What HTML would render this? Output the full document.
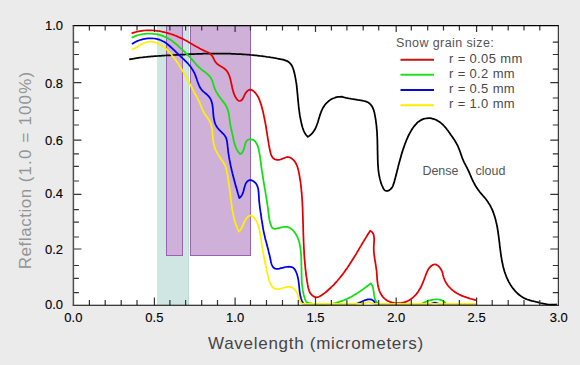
<!DOCTYPE html>
<html><head><meta charset="utf-8"><style>
html,body{margin:0;padding:0;}
body{width:580px;height:365px;background:#ebebeb;position:relative;overflow:hidden;font-family:"Liberation Sans",sans-serif;}
svg{position:absolute;left:0;top:0;}
.yl{position:absolute;left:30px;width:33px;text-align:right;font-size:13px;line-height:16px;color:#000;-webkit-text-stroke:0.12px #000;}
.xl{position:absolute;top:310px;width:40px;text-align:center;font-size:13px;line-height:16px;color:#000;-webkit-text-stroke:0.12px #000;}
.t{position:absolute;white-space:nowrap;line-height:1;}
</style></head><body>
<svg width="580" height="365" viewBox="0 0 580 365">
<rect x="73.4" y="25.6" width="484.9" height="279.59999999999997" fill="#fff"/>
<rect x="157" y="25.6" width="32" height="279.59999999999997" fill="rgb(207,230,226)"/>
<line x1="188.6" y1="25.6" x2="188.6" y2="305.2" stroke="rgb(188,214,207)" stroke-width="0.8"/>
<line x1="189.6" y1="25.6" x2="189.6" y2="255.5" stroke="#f4fbfa" stroke-width="0.9"/>
<rect x="166.5" y="25.6" width="16" height="229.9" fill="rgb(206,176,216)" stroke="#9862b4" stroke-width="1"/>
<rect x="190.5" y="25.6" width="60" height="229.9" fill="rgb(206,176,216)" stroke="#9862b4" stroke-width="1"/>
<path d="M129.2,59.4 130.7,59.1 132.2,58.8 133.7,58.6 135.2,58.3 136.7,58.1 138.2,57.9 139.7,57.7 141.2,57.5 142.7,57.3 144.2,57.1 145.7,57.0 147.2,56.8 148.7,56.7 150.2,56.6 151.7,56.4 153.2,56.3 154.7,56.2 156.2,56.1 157.8,56.0 159.3,55.9 160.8,55.8 162.3,55.7 163.8,55.6 165.3,55.5 166.8,55.4 168.3,55.4 169.8,55.3 171.4,55.2 172.9,55.1 174.4,55.0 175.9,54.9 177.4,54.9 178.9,54.8 180.4,54.7 181.9,54.6 183.5,54.5 185.0,54.5 186.5,54.4 188.0,54.3 189.5,54.2 191.0,54.2 192.5,54.1 194.0,54.1 195.6,54.0 197.1,53.9 198.6,53.9 200.1,53.8 201.6,53.8 203.1,53.7 204.6,53.7 206.1,53.7 207.7,53.6 209.2,53.6 210.7,53.6 212.2,53.6 213.7,53.6 215.2,53.6 216.7,53.5 218.3,53.5 219.8,53.5 221.3,53.6 222.8,53.6 224.3,53.6 225.8,53.6 227.3,53.7 228.9,53.7 230.4,53.7 231.9,53.8 233.4,53.8 234.9,53.9 236.4,54.0 237.9,54.0 239.5,54.1 241.0,54.2 242.5,54.3 244.0,54.4 245.5,54.5 247.0,54.6 248.5,54.7 250.0,54.9 251.5,55.0 253.0,55.1 254.6,55.3 256.1,55.4 257.6,55.6 259.1,55.8 260.6,56.0 262.1,56.1 263.6,56.3 265.1,56.5 266.6,56.8 268.1,57.0 269.6,57.2 271.1,57.5 272.6,57.7 274.1,58.0 275.6,58.2 277.1,58.5 278.6,58.8 280.1,59.1 281.6,59.4 283.1,59.7 284.5,60.1 285.9,60.6 287.3,61.1 288.5,61.9 289.6,62.8 290.6,63.8 291.4,65.0 292.2,66.3 292.8,67.7 293.4,69.2 293.8,70.7 294.2,72.2 294.6,73.8 294.9,75.3 295.2,76.8 295.5,78.4 295.8,79.9 296.0,81.4 296.3,82.9 296.5,84.4 296.7,85.9 296.8,87.3 297.0,88.8 297.1,90.3 297.3,91.8 297.4,93.3 297.6,94.8 297.7,96.3 297.8,97.8 298.0,99.3 298.1,100.8 298.3,102.3 298.4,103.8 298.6,105.4 298.7,106.9 298.9,108.4 299.1,109.9 299.3,111.4 299.5,112.9 299.7,114.4 299.9,115.9 300.2,117.4 300.5,118.9 300.8,120.4 301.1,121.8 301.4,123.3 301.8,124.8 302.2,126.3 302.6,127.7 303.1,129.1 303.6,130.5 304.2,131.9 304.9,133.2 305.8,134.5 306.7,135.7 307.8,136.8 309.2,135.9 310.5,135.0 311.6,133.9 312.6,132.8 313.5,131.6 314.4,130.3 315.1,129.0 315.8,127.6 316.4,126.1 316.9,124.7 317.5,123.2 318.0,121.7 318.4,120.2 318.9,118.6 319.4,117.1 319.8,115.6 320.3,114.1 320.9,112.6 321.4,111.1 322.1,109.7 322.7,108.3 323.5,107.0 324.3,105.7 325.2,104.5 326.2,103.4 327.3,102.3 328.4,101.3 329.6,100.4 330.8,99.5 332.2,98.8 333.6,98.2 335.0,97.7 336.6,97.2 338.2,96.9 339.9,96.8 341.6,96.7 343.1,97.1 344.6,97.5 346.1,97.9 347.5,98.2 348.9,98.5 350.4,98.7 351.8,99.0 353.2,99.2 354.7,99.4 356.2,99.6 357.7,99.9 359.2,100.1 360.8,100.3 362.4,100.6 364.0,101.0 365.5,101.4 367.0,101.9 368.3,102.6 369.5,103.4 370.5,104.4 371.4,105.5 372.2,106.6 372.8,107.9 373.4,109.3 373.9,110.8 374.3,112.2 374.6,113.7 374.9,115.3 375.2,116.8 375.5,118.3 375.7,119.8 375.9,121.3 376.1,122.8 376.3,124.3 376.5,125.8 376.6,127.3 376.7,128.8 376.9,130.3 377.0,131.8 377.1,133.3 377.1,134.8 377.2,136.3 377.3,137.8 377.3,139.3 377.4,140.7 377.4,142.2 377.4,143.7 377.5,145.2 377.5,146.7 377.5,148.2 377.5,149.7 377.6,151.2 377.6,152.7 377.6,154.2 377.7,155.7 377.7,157.2 377.7,158.8 377.8,160.3 377.8,161.8 377.9,163.4 378.0,164.9 378.1,166.4 378.2,168.0 378.3,169.5 378.5,171.0 378.7,172.6 378.9,174.1 379.2,175.6 379.5,177.1 379.8,178.5 380.2,180.0 380.6,181.5 381.0,182.9 381.5,184.3 382.1,185.7 382.7,187.0 383.3,188.4 384.1,189.6 385.0,190.5 386.2,190.9 387.6,190.8 389.1,190.3 390.4,189.4 391.5,188.2 392.4,186.9 393.1,185.4 393.6,183.9 394.1,182.4 394.5,180.9 394.9,179.5 395.3,178.0 395.7,176.6 396.1,175.1 396.4,173.7 396.8,172.3 397.1,170.8 397.5,169.4 397.9,167.9 398.2,166.5 398.6,165.0 399.0,163.5 399.4,162.1 399.8,160.6 400.2,159.2 400.6,157.7 401.0,156.3 401.4,154.8 401.8,153.4 402.3,151.9 402.7,150.5 403.2,149.0 403.7,147.6 404.2,146.2 404.7,144.7 405.2,143.3 405.8,141.9 406.3,140.5 406.9,139.1 407.5,137.8 408.1,136.4 408.8,135.0 409.5,133.7 410.2,132.4 410.9,131.1 411.7,129.8 412.5,128.5 413.4,127.3 414.3,126.1 415.3,124.9 416.3,123.8 417.3,122.7 418.5,121.7 419.7,120.9 421.0,120.1 422.4,119.4 423.8,118.9 425.3,118.5 426.8,118.3 428.4,118.2 429.9,118.2 431.5,118.4 432.9,118.8 434.4,119.2 435.8,119.8 437.1,120.4 438.4,121.2 439.7,122.0 440.8,122.9 442.0,123.9 443.1,124.9 444.1,126.0 445.1,127.1 446.1,128.3 447.0,129.5 448.0,130.7 448.9,132.0 449.8,133.2 450.6,134.5 451.5,135.7 452.4,137.0 453.2,138.2 454.1,139.5 454.9,140.7 455.6,142.0 456.4,143.3 457.1,144.6 457.8,145.9 458.4,147.3 458.9,148.7 459.5,150.1 460.0,151.5 460.5,152.9 461.0,154.4 461.5,155.8 462.0,157.2 462.5,158.7 463.1,160.0 463.7,161.4 464.4,162.8 465.1,164.1 465.8,165.5 466.5,166.8 467.2,168.1 467.8,169.5 468.5,170.8 469.1,172.2 469.7,173.6 470.3,175.0 470.9,176.4 471.5,177.8 472.1,179.2 472.7,180.5 473.4,181.9 474.1,183.2 474.8,184.5 475.5,185.8 476.3,187.1 477.1,188.3 478.0,189.6 478.9,190.8 479.8,192.0 480.8,193.2 481.8,194.3 482.8,195.5 483.8,196.6 484.8,197.8 485.8,199.0 486.7,200.2 487.6,201.4 488.4,202.7 489.2,203.9 490.0,205.2 490.7,206.5 491.3,207.9 492.0,209.2 492.6,210.6 493.1,211.9 493.6,213.3 494.1,214.7 494.6,216.2 495.0,217.6 495.4,219.0 495.8,220.5 496.1,221.9 496.5,223.4 496.8,224.9 497.1,226.3 497.4,227.8 497.6,229.3 497.9,230.8 498.1,232.3 498.3,233.8 498.5,235.4 498.7,236.9 498.9,238.4 499.1,239.9 499.3,241.4 499.5,242.9 499.6,244.5 499.8,246.0 500.0,247.5 500.2,249.0 500.4,250.5 500.6,252.1 500.8,253.6 501.0,255.1 501.2,256.6 501.5,258.1 501.7,259.6 502.0,261.0 502.3,262.5 502.6,264.0 502.9,265.4 503.2,266.9 503.6,268.3 504.0,269.8 504.4,271.2 504.9,272.6 505.4,274.0 505.9,275.4 506.4,276.8 507.0,278.1 507.6,279.5 508.3,280.8 508.9,282.1 509.7,283.4 510.4,284.7 511.3,286.0 512.1,287.2 513.0,288.4 514.0,289.6 515.0,290.8 516.0,291.9 517.1,293.0 518.2,294.0 519.4,295.0 520.6,295.9 521.8,296.8 523.1,297.6 524.5,298.3 525.8,298.9 527.3,299.5 528.7,299.9 530.2,300.4 531.6,300.8 533.1,301.1 534.6,301.5 536.1,301.9 537.5,302.2 539.0,302.6 540.4,303.0 541.9,303.3 543.3,303.6 544.8,303.9 546.3,304.2 547.7,304.4 549.2,304.5 550.7,304.6 552.2,304.6 553.8,304.6 555.3,304.5 556.9,304.3" stroke="#000" stroke-width="1.75" fill="none" stroke-linejoin="round" stroke-linecap="butt"/>
<path d="M131.6,33.4 133.0,32.9 134.5,32.4 135.9,32.0 137.4,31.7 138.8,31.4 140.3,31.1 141.8,30.9 143.3,30.7 144.8,30.5 146.3,30.4 147.7,30.4 149.2,30.4 150.7,30.4 152.2,30.4 153.7,30.5 155.2,30.6 156.7,30.8 158.2,31.0 159.7,31.2 161.2,31.5 162.7,31.8 164.1,32.1 165.6,32.5 167.1,32.9 168.5,33.3 170.0,33.7 171.4,34.2 172.9,34.7 174.3,35.2 175.7,35.8 177.1,36.4 178.5,37.0 179.9,37.6 181.3,38.2 182.7,38.9 184.0,39.5 185.3,40.2 186.7,40.9 188.0,41.7 189.3,42.4 190.5,43.2 191.8,43.9 193.1,44.7 194.4,45.4 195.7,46.2 197.0,46.9 198.3,47.6 199.6,48.4 200.9,49.1 202.3,49.8 203.6,50.4 205.0,51.0 206.4,51.7 207.8,52.3 209.1,53.0 210.3,53.9 211.3,54.9 212.2,56.1 213.0,57.3 213.7,58.7 214.4,60.1 215.1,61.4 216.0,62.6 217.0,63.7 218.2,64.6 219.4,65.5 220.7,66.3 222.1,67.1 223.4,67.9 224.6,68.8 225.7,69.7 226.7,70.8 227.5,72.0 228.2,73.3 228.9,74.6 229.4,76.0 229.9,77.5 230.3,79.0 230.7,80.4 231.0,82.0 231.4,83.5 231.7,85.0 232.0,86.5 232.3,88.0 232.7,89.5 233.1,91.0 233.5,92.4 234.0,93.9 234.5,95.2 235.2,96.5 235.9,97.8 236.8,99.0 237.7,100.1 238.8,100.9 240.0,101.0 241.1,100.5 242.2,99.5 243.1,98.2 243.8,96.7 244.5,95.1 245.3,93.6 246.3,92.2 247.4,91.0 248.6,90.1 249.8,89.7 251.1,89.8 252.4,90.4 253.7,91.3 254.9,92.4 256.0,93.7 256.9,95.0 257.7,96.2 258.4,97.5 259.0,98.8 259.6,100.2 260.1,101.7 260.6,103.1 261.1,104.6 261.5,106.1 261.9,107.6 262.3,109.1 262.7,110.6 263.1,112.0 263.4,113.5 263.7,115.0 264.0,116.4 264.3,117.9 264.6,119.3 264.9,120.7 265.2,122.2 265.4,123.6 265.7,125.1 265.9,126.5 266.2,128.0 266.4,129.4 266.6,130.9 266.9,132.3 267.1,133.8 267.3,135.3 267.6,136.8 267.8,138.3 268.1,139.8 268.3,141.3 268.6,142.9 268.8,144.4 269.1,146.0 269.4,147.6 269.7,149.2 270.0,150.8 270.4,152.3 270.8,153.8 271.3,155.2 271.9,156.5 272.7,157.6 273.6,158.6 274.7,159.2 275.9,159.7 277.4,159.9 278.9,159.8 280.5,159.5 282.0,158.9 283.5,158.3 285.0,157.7 286.4,157.2 287.8,157.0 289.2,157.2 290.6,157.8 291.9,158.7 293.1,159.7 294.2,160.8 295.1,162.0 295.9,163.3 296.5,164.6 297.1,166.0 297.6,167.4 298.0,168.9 298.4,170.3 298.7,171.8 299.0,173.3 299.3,174.8 299.6,176.3 299.8,177.8 300.0,179.3 300.3,180.7 300.5,182.2 300.7,183.7 300.9,185.2 301.0,186.7 301.2,188.2 301.4,189.7 301.5,191.2 301.6,192.7 301.8,194.2 301.9,195.7 302.0,197.3 302.1,198.8 302.2,200.3 302.3,201.8 302.4,203.3 302.4,204.8 302.5,206.3 302.6,207.8 302.6,209.3 302.7,210.8 302.7,212.3 302.8,213.8 302.8,215.3 302.9,216.8 302.9,218.3 303.0,219.8 303.0,221.3 303.0,222.8 303.1,224.3 303.1,225.8 303.2,227.3 303.2,228.8 303.2,230.3 303.3,231.8 303.3,233.3 303.4,234.8 303.4,236.3 303.5,237.8 303.5,239.3 303.6,240.8 303.6,242.3 303.7,243.8 303.8,245.3 303.8,246.8 303.9,248.3 304.0,249.8 304.1,251.3 304.1,252.8 304.2,254.3 304.3,255.8 304.4,257.3 304.5,258.8 304.7,260.3 304.8,261.8 304.9,263.3 305.1,264.8 305.2,266.3 305.3,267.8 305.5,269.3 305.7,270.8 305.9,272.3 306.0,273.8 306.2,275.3 306.4,276.9 306.7,278.4 306.9,279.9 307.1,281.4 307.4,282.9 307.6,284.4 307.9,286.0 308.2,287.5 308.6,288.9 309.0,290.3 309.5,291.7 310.2,293.0 311.0,294.2 312.0,295.2 313.2,296.1 314.6,296.9 316.0,297.3 317.5,297.2 318.9,296.7 320.3,296.0 321.6,295.2 322.9,294.3 324.2,293.4 325.4,292.5 326.6,291.5 327.7,290.5 328.8,289.5 329.9,288.5 331.0,287.5 332.1,286.4 333.2,285.4 334.2,284.3 335.2,283.2 336.2,282.1 337.2,281.0 338.2,279.8 339.1,278.7 340.1,277.5 341.0,276.3 342.0,275.2 342.9,274.0 343.8,272.8 344.7,271.5 345.5,270.3 346.4,269.1 347.3,267.9 348.1,266.6 348.9,265.4 349.8,264.1 350.6,262.8 351.4,261.6 352.2,260.3 353.0,259.0 353.8,257.7 354.6,256.4 355.4,255.2 356.2,253.9 356.9,252.6 357.7,251.3 358.5,250.0 359.2,248.7 360.0,247.4 360.8,246.1 361.5,244.8 362.3,243.5 363.1,242.2 363.9,240.9 364.6,239.6 365.4,238.4 366.2,237.1 367.0,235.8 367.8,234.5 368.6,233.2 369.4,232.0 370.2,230.7 371.5,231.6 372.5,232.6 373.2,233.8 373.7,235.1 374.0,236.6 374.1,238.1 374.2,239.7 374.1,241.4 374.0,243.1 373.9,244.7 373.8,246.4 373.7,248.0 373.8,249.6 373.8,251.2 374.0,252.7 374.1,254.2 374.3,255.7 374.5,257.2 374.7,258.7 374.9,260.1 375.2,261.6 375.4,263.0 375.7,264.5 375.9,266.0 376.1,267.5 376.3,268.9 376.5,270.5 376.7,272.0 376.8,273.5 376.9,275.1 377.0,276.6 377.1,278.2 377.2,279.7 377.4,281.3 377.6,282.8 377.8,284.4 378.1,285.9 378.4,287.4 378.8,288.8 379.2,290.3 379.7,291.6 380.4,293.0 381.1,294.3 381.9,295.6 382.8,296.8 383.8,297.9 384.9,298.9 386.1,299.8 387.4,300.7 388.7,301.3 390.1,301.9 391.6,302.4 393.1,302.7 394.7,303.0 396.3,303.1 397.8,303.2 399.4,303.1 401.0,303.0 402.5,302.7 404.0,302.4 405.5,301.9 406.9,301.4 408.2,300.8 409.5,300.1 410.8,299.3 411.9,298.4 413.1,297.5 414.1,296.5 415.2,295.4 416.2,294.3 417.1,293.1 418.0,291.9 418.8,290.6 419.6,289.3 420.4,288.0 421.1,286.6 421.8,285.2 422.4,283.7 423.1,282.2 423.6,280.8 424.2,279.3 424.7,277.8 425.3,276.3 425.8,274.8 426.4,273.4 427.0,272.0 427.6,270.6 428.4,269.3 429.2,268.1 430.1,267.0 431.2,266.0 432.4,265.1 433.7,264.5 435.0,264.4 436.3,264.7 437.6,265.4 438.8,266.4 439.9,267.7 440.8,269.0 441.6,270.5 442.2,272.0 442.7,273.5 443.0,274.9 443.4,276.4 443.8,277.8 444.3,279.2 444.9,280.6 445.6,281.9 446.4,283.2 447.2,284.5 448.1,285.7 449.1,286.9 450.2,288.0 451.3,289.1 452.4,290.1 453.6,291.1 454.8,291.9 456.1,292.8 457.4,293.6 458.7,294.3 460.1,294.9 461.5,295.6 462.9,296.1 464.3,296.7 465.8,297.2 467.2,297.7 468.7,298.1 470.1,298.6 471.6,299.0 473.1,299.4 474.5,299.8 476.0,300.2" stroke="#e40000" stroke-width="1.75" fill="none" stroke-linejoin="round" stroke-linecap="butt"/>
<path d="M131.6,37.8 133.0,37.1 134.3,36.5 135.8,35.9 137.2,35.4 138.7,35.0 140.1,34.6 141.6,34.3 143.1,34.0 144.7,33.8 146.2,33.6 147.7,33.5 149.2,33.5 150.8,33.5 152.3,33.6 153.8,33.8 155.3,34.0 156.8,34.2 158.3,34.6 159.8,35.0 161.2,35.4 162.7,35.9 164.1,36.5 165.5,37.1 166.8,37.7 168.2,38.4 169.5,39.2 170.8,40.0 172.0,40.9 173.2,41.8 174.4,42.8 175.6,43.7 176.8,44.7 177.9,45.7 179.1,46.8 180.2,47.8 181.3,48.8 182.5,49.8 183.6,50.9 184.7,51.9 185.8,53.0 186.9,54.1 187.9,55.1 189.0,56.2 190.0,57.3 191.1,58.5 192.1,59.6 193.1,60.7 194.1,61.9 195.1,63.0 196.1,64.2 197.1,65.3 198.1,66.4 199.2,67.4 200.3,68.5 201.4,69.4 202.7,70.4 203.9,71.2 205.1,72.1 206.3,73.1 207.4,74.1 208.5,75.1 209.5,76.2 210.4,77.3 211.2,78.6 211.9,79.9 212.5,81.3 212.9,82.7 213.4,84.2 213.8,85.7 214.2,87.2 214.8,88.6 215.4,90.0 216.0,91.4 216.8,92.7 217.6,94.0 218.4,95.3 219.3,96.5 220.2,97.7 221.1,99.0 222.0,100.2 223.0,101.4 223.9,102.6 224.7,103.8 225.6,105.1 226.3,106.3 227.0,107.7 227.5,109.1 228.0,110.5 228.4,111.9 228.7,113.4 229.0,114.9 229.2,116.4 229.4,118.0 229.6,119.5 229.8,121.0 230.0,122.6 230.2,124.1 230.5,125.6 230.8,127.1 231.1,128.6 231.4,130.1 231.8,131.6 232.1,133.0 232.4,134.5 232.8,136.0 233.1,137.5 233.4,139.0 233.7,140.5 234.1,141.9 234.5,143.4 234.9,144.9 235.4,146.3 236.0,147.7 236.6,149.1 237.3,150.4 238.2,151.7 239.1,152.9 240.2,154.1 241.5,153.4 242.4,152.4 243.2,151.0 243.8,149.4 244.2,147.7 244.7,145.9 245.1,144.2 245.7,142.6 246.4,141.3 247.3,140.2 248.5,139.5 250.0,139.3 251.6,139.4 253.0,139.8 254.2,140.6 255.2,141.5 256.1,142.7 256.8,144.0 257.5,145.4 258.0,146.9 258.4,148.5 258.8,150.1 259.1,151.7 259.4,153.3 259.7,154.8 260.0,156.3 260.2,157.8 260.4,159.3 260.6,160.8 260.8,162.2 261.0,163.7 261.1,165.1 261.3,166.6 261.5,168.1 261.7,169.6 262.0,171.1 262.2,172.5 262.4,174.0 262.7,175.5 262.9,177.0 263.1,178.5 263.4,180.0 263.6,181.5 263.9,183.1 264.1,184.6 264.4,186.1 264.6,187.6 264.9,189.1 265.2,190.6 265.4,192.1 265.7,193.6 265.9,195.2 266.2,196.7 266.4,198.2 266.6,199.7 266.9,201.2 267.1,202.7 267.3,204.2 267.5,205.7 267.8,207.2 268.0,208.7 268.2,210.1 268.3,211.6 268.5,213.1 268.7,214.5 268.9,216.0 269.1,217.5 269.3,219.0 269.6,220.5 270.0,222.0 270.4,223.6 270.9,225.2 271.6,226.7 272.4,227.9 273.5,228.6 274.9,228.8 276.4,228.6 278.1,228.2 279.7,227.8 281.3,227.3 282.9,227.0 284.4,226.8 285.9,226.8 287.3,226.9 288.7,227.3 290.0,228.0 291.3,228.9 292.5,229.9 293.5,231.0 294.5,232.2 295.4,233.5 296.2,234.7 296.9,236.1 297.6,237.4 298.1,238.8 298.6,240.2 299.1,241.7 299.5,243.1 299.8,244.6 300.1,246.1 300.3,247.6 300.5,249.2 300.7,250.7 300.9,252.2 301.0,253.8 301.1,255.3 301.2,256.9 301.3,258.4 301.3,260.0 301.4,261.5 301.4,263.0 301.4,264.6 301.4,266.1 301.5,267.7 301.5,269.2 301.5,270.8 301.5,272.3 301.5,273.8 301.6,275.4 301.6,276.9 301.7,278.4 301.7,279.9 301.8,281.5 301.9,283.0 302.0,284.5 302.2,286.0 302.4,287.4 302.6,288.9 302.8,290.4 303.1,291.8 303.4,293.3 303.7,294.7 304.1,296.2 304.5,297.6 304.9,299.0 305.5,300.4 306.1,301.6 307.3,302.6 309.1,303.1 310.9,303.3 312.0,303.8 313.6,304.1 315.2,304.4 316.8,304.6 318.4,304.7 320.0,304.8 321.6,304.8 323.2,304.8 324.7,304.8 326.3,304.7 327.8,304.5 329.4,304.3 330.9,304.0 332.4,303.8 333.9,303.4 335.4,303.1 336.9,302.6 338.4,302.2 339.9,301.7 341.4,301.2 342.8,300.6 344.3,300.0 345.7,299.4 347.1,298.8 348.6,298.1 350.0,297.4 351.3,296.7 352.7,295.9 354.1,295.1 355.4,294.3 356.8,293.5 358.1,292.6 359.4,291.8 360.7,290.9 362.0,290.0 363.3,289.1 364.6,288.1 365.8,287.2 367.1,286.2 368.3,285.3 369.5,284.3 370.7,283.3 371.7,284.7 372.5,286.2 373.0,287.8 373.4,289.5 373.6,291.3 373.9,293.1 374.1,294.9 374.4,296.7 374.7,298.4 375.3,300.0 376.1,301.4 377.1,302.7 378.5,303.8 421.2,303.8 422.6,303.2 424.1,302.5 425.7,301.9 427.3,301.2 428.9,300.7 430.6,300.2 432.3,299.8 434.0,299.5 435.7,299.3 437.4,299.3 439.0,299.5 440.6,299.9 442.1,300.5 443.5,301.3 444.8,302.4 446.0,303.8 476.0,303.8" stroke="#10e010" stroke-width="1.75" fill="none" stroke-linejoin="round" stroke-linecap="butt"/>
<path d="M131.9,44.0 133.2,43.2 134.5,42.4 135.8,41.8 137.2,41.1 138.6,40.5 140.1,40.0 141.6,39.6 143.1,39.2 144.6,38.9 146.1,38.6 147.6,38.4 149.2,38.3 150.7,38.3 152.2,38.3 153.7,38.5 155.2,38.6 156.6,38.9 158.1,39.3 159.5,39.7 160.9,40.2 162.2,40.9 163.5,41.6 164.8,42.3 166.0,43.1 167.2,44.0 168.4,45.0 169.6,46.0 170.7,47.0 171.9,48.0 173.0,49.1 174.1,50.2 175.2,51.2 176.3,52.3 177.5,53.4 178.6,54.5 179.7,55.5 180.8,56.6 181.9,57.6 183.0,58.7 184.1,59.7 185.2,60.8 186.3,61.9 187.3,62.9 188.3,64.0 189.3,65.2 190.2,66.3 191.1,67.5 191.9,68.7 192.7,70.0 193.5,71.3 194.2,72.6 194.8,74.0 195.4,75.4 195.9,76.9 196.5,78.3 196.9,79.8 197.4,81.3 198.0,82.8 198.5,84.2 199.1,85.6 199.8,87.0 200.5,88.3 201.4,89.5 202.4,90.6 203.4,91.6 204.6,92.6 205.7,93.5 206.9,94.5 208.0,95.6 209.0,96.7 209.9,97.9 210.6,99.1 211.2,100.5 211.7,101.9 212.1,103.4 212.4,104.9 212.6,106.4 212.8,108.0 213.0,109.5 213.1,111.0 213.2,112.6 213.3,114.1 213.5,115.6 213.6,117.1 213.9,118.6 214.2,120.1 214.5,121.6 215.0,123.1 215.6,124.5 216.2,125.8 217.0,127.1 217.9,128.3 218.9,129.5 220.0,130.6 221.1,131.7 222.2,132.8 223.3,133.9 224.3,135.0 225.2,136.3 225.9,137.5 226.4,138.9 226.8,140.3 227.1,141.8 227.3,143.3 227.5,144.8 227.6,146.4 227.8,147.9 228.0,149.4 228.1,150.9 228.3,152.4 228.5,153.9 228.8,155.4 229.0,156.9 229.3,158.4 229.5,159.9 229.8,161.4 230.1,162.9 230.4,164.3 230.7,165.8 231.0,167.3 231.4,168.8 231.7,170.2 232.1,171.7 232.4,173.2 232.8,174.7 233.2,176.2 233.5,177.6 233.9,179.1 234.3,180.6 234.7,182.0 235.1,183.5 235.5,185.0 235.9,186.4 236.4,187.9 236.8,189.4 237.2,190.8 237.6,192.3 238.0,193.7 238.5,195.2 238.9,196.7 239.3,198.1 240.5,197.0 241.5,195.8 242.2,194.6 242.8,193.2 243.3,191.8 243.7,190.3 244.1,188.8 244.5,187.2 244.9,185.7 245.5,184.2 246.3,182.7 247.2,181.5 248.3,180.6 249.6,180.2 250.9,180.2 252.3,180.6 253.6,181.4 254.8,182.3 255.9,183.4 256.7,184.7 257.3,186.0 257.8,187.5 258.2,189.0 258.4,190.5 258.6,192.1 258.7,193.7 258.8,195.4 258.9,197.0 259.0,198.5 259.1,200.1 259.2,201.6 259.4,203.1 259.6,204.6 259.7,206.0 259.9,207.5 260.1,208.9 260.3,210.4 260.5,211.9 260.8,213.3 261.0,214.8 261.2,216.3 261.4,217.9 261.6,219.4 261.9,220.9 262.1,222.5 262.4,224.0 262.6,225.5 262.9,227.1 263.1,228.6 263.4,230.1 263.7,231.6 264.0,233.1 264.3,234.6 264.7,236.0 265.0,237.5 265.3,238.9 265.7,240.3 266.1,241.7 266.5,243.1 266.8,244.6 267.2,246.0 267.6,247.4 268.0,248.9 268.4,250.4 268.7,251.9 269.1,253.4 269.5,255.0 269.9,256.6 270.2,258.3 270.6,260.0 270.9,261.7 271.3,263.3 271.8,264.8 272.5,266.2 273.2,267.3 274.1,268.1 275.2,268.6 276.4,268.8 277.8,268.8 279.3,268.6 280.9,268.2 282.6,267.8 284.2,267.4 285.9,267.0 287.5,266.8 289.0,266.7 290.5,266.8 291.8,267.1 293.1,267.7 294.1,268.6 295.0,269.8 295.8,271.2 296.4,272.7 297.0,274.2 297.4,275.7 297.8,277.2 298.1,278.7 298.4,280.2 298.6,281.7 298.8,283.2 299.0,284.7 299.1,286.2 299.3,287.8 299.4,289.3 299.6,290.8 299.8,292.3 300.0,293.8 300.3,295.3 300.6,296.8 301.0,298.2 301.5,299.7 302.0,301.1 302.7,302.5 303.5,303.8 353.6,303.8 355.2,303.8 356.8,303.5 358.4,303.0 360.0,302.4 361.6,301.7 363.2,301.0 364.7,300.3 366.3,299.8 367.9,299.4 369.4,299.3 370.9,299.4 372.3,300.0 373.6,300.9 374.6,302.2 375.2,304.0 377.0,303.8 431.0,303.8 435.0,302.6 439.0,303.8 476.0,303.8" stroke="#00e" stroke-width="1.75" fill="none" stroke-linejoin="round" stroke-linecap="butt"/>
<path d="M131.9,49.5 133.2,49.0 134.5,48.4 135.8,47.7 137.1,46.9 138.5,46.1 139.9,45.3 141.3,44.4 142.7,43.7 144.1,43.0 145.6,42.5 147.0,42.0 148.5,41.7 150.0,41.6 151.5,41.7 153.0,41.9 154.4,42.2 155.8,42.7 157.3,43.2 158.6,43.9 160.0,44.6 161.2,45.3 162.5,46.1 163.7,47.0 164.9,48.0 166.1,48.9 167.2,50.0 168.3,51.0 169.3,52.2 170.4,53.3 171.4,54.5 172.3,55.7 173.3,56.9 174.2,58.1 175.1,59.3 176.0,60.6 176.9,61.9 177.8,63.1 178.6,64.4 179.4,65.7 180.2,66.9 181.0,68.2 181.8,69.5 182.6,70.8 183.3,72.1 184.1,73.4 184.8,74.7 185.6,76.1 186.3,77.4 187.0,78.7 187.7,80.0 188.4,81.4 189.2,82.7 189.9,84.0 190.6,85.4 191.3,86.7 192.0,88.0 192.7,89.4 193.4,90.7 194.1,92.1 194.8,93.4 195.6,94.7 196.3,96.1 197.0,97.4 197.7,98.8 198.4,100.2 199.1,101.5 199.7,102.9 200.3,104.3 200.9,105.7 201.4,107.1 202.0,108.5 202.6,109.8 203.2,111.2 203.9,112.5 204.7,113.8 205.5,115.1 206.4,116.3 207.3,117.6 208.1,118.8 209.0,120.1 209.7,121.4 210.3,122.7 210.9,124.1 211.3,125.5 211.7,127.0 212.0,128.5 212.2,130.0 212.4,131.5 212.5,133.0 212.6,134.6 212.7,136.1 212.8,137.7 213.0,139.2 213.2,140.8 213.4,142.3 213.7,143.8 214.0,145.3 214.5,146.7 215.0,148.2 215.5,149.6 216.2,150.9 216.8,152.3 217.6,153.6 218.3,154.9 219.1,156.2 220.0,157.5 220.8,158.7 221.7,160.0 222.6,161.2 223.5,162.5 224.2,163.7 224.9,165.1 225.5,166.4 226.0,167.8 226.4,169.3 226.7,170.8 227.0,172.3 227.3,173.8 227.5,175.3 227.8,176.8 228.0,178.3 228.3,179.8 228.5,181.4 228.7,182.9 228.9,184.4 229.2,185.9 229.4,187.4 229.6,188.9 229.8,190.4 230.0,191.9 230.2,193.4 230.3,194.9 230.5,196.4 230.7,197.9 230.9,199.4 231.1,200.9 231.3,202.4 231.5,203.9 231.7,205.4 231.9,206.9 232.1,208.4 232.3,209.9 232.6,211.4 232.9,212.9 233.2,214.4 233.5,215.9 233.8,217.4 234.2,218.9 234.6,220.4 235.0,221.8 235.5,223.3 235.9,224.7 236.5,226.1 237.0,227.5 237.6,228.9 238.3,230.3 239.0,231.6 240.0,230.5 240.9,229.3 241.7,228.0 242.3,226.7 243.0,225.2 243.6,223.7 244.3,222.2 245.0,220.7 245.8,219.3 246.8,217.9 247.8,216.8 248.9,216.0 250.0,215.6 251.2,215.7 252.4,216.3 253.6,217.1 254.6,218.3 255.5,219.6 256.3,221.0 257.0,222.5 257.7,224.0 258.2,225.5 258.7,227.0 259.1,228.5 259.5,230.0 259.8,231.5 260.1,233.0 260.3,234.5 260.6,236.0 260.8,237.4 261.0,238.9 261.2,240.4 261.4,241.9 261.6,243.4 261.8,244.9 262.0,246.4 262.3,247.9 262.5,249.4 262.8,250.9 263.1,252.4 263.4,253.9 263.7,255.5 264.0,257.0 264.3,258.5 264.6,260.0 264.9,261.5 265.2,263.0 265.5,264.5 265.8,266.0 266.2,267.5 266.5,269.0 266.8,270.4 267.1,271.9 267.4,273.4 267.7,274.9 268.0,276.3 268.4,277.8 268.8,279.3 269.3,280.8 269.8,282.3 270.5,283.8 271.3,285.2 272.2,286.6 273.2,287.7 274.3,288.5 275.6,289.0 277.0,289.1 278.4,289.0 280.0,288.8 281.5,288.4 283.2,288.0 284.8,287.5 286.4,287.2 287.9,286.9 289.4,286.9 290.9,287.1 292.2,287.6 293.4,288.3 294.5,289.3 295.5,290.5 296.4,291.8 297.1,293.2 297.7,294.7 298.1,296.2 298.5,297.8 299.0,299.2 299.5,300.6 300.2,301.9 301.2,303.0 302.5,303.8 362.0,303.8 368.6,302.0 374.0,303.8 476.5,303.8" stroke="#fff000" stroke-width="1.75" fill="none" stroke-linejoin="round" stroke-linecap="butt"/>
<path d="M89.4,305.2v-5.3M89.4,25.6v5M105.2,305.2v-5.3M105.2,25.6v5M121.2,305.2v-5.3M121.2,25.6v5M137.0,305.2v-5.3M137.0,25.6v5M154.4,305.2v-7.7M154.4,25.6v6.3M169.9,305.2v-5.3M169.9,25.6v5M185.6,305.2v-5.3M185.6,25.6v5M201.7,305.2v-5.3M201.7,25.6v5M217.5,305.2v-5.3M217.5,25.6v5M235.1,305.2v-7.7M235.1,25.6v6.3M250.5,305.2v-5.3M250.5,25.6v5M266.5,305.2v-5.3M266.5,25.6v5M282.5,305.2v-5.3M282.5,25.6v5M298.3,305.2v-5.3M298.3,25.6v5M315.5,305.2v-7.7M315.5,25.6v6.3M331.4,305.2v-5.3M331.4,25.6v5M346.9,305.2v-5.3M346.9,25.6v5M363.2,305.2v-5.3M363.2,25.6v5M378.7,305.2v-5.3M378.7,25.6v5M396.2,305.2v-7.7M396.2,25.6v6.3M411.3,305.2v-5.3M411.3,25.6v5M427.7,305.2v-5.3M427.7,25.6v5M443.5,305.2v-5.3M443.5,25.6v5M459.4,305.2v-5.3M459.4,25.6v5M476.6,305.2v-7.7M476.6,25.6v6.3M492.2,305.2v-5.3M492.2,25.6v5M508.2,305.2v-5.3M508.2,25.6v5M524.0,305.2v-5.3M524.0,25.6v5M539.8,305.2v-5.3M539.8,25.6v5M73.4,42.1h5.5M558.3,42.1h-5.5M73.4,54.5h5.5M558.3,54.5h-5.5M73.4,69.1h5.5M558.3,69.1h-5.5M73.4,82.7h8M558.3,82.7h-8M73.4,98.0h5.5M558.3,98.0h-5.5M73.4,110.4h5.5M558.3,110.4h-5.5M73.4,125.0h5.5M558.3,125.0h-5.5M73.4,140.2h8M558.3,140.2h-8M73.4,153.9h5.5M558.3,153.9h-5.5M73.4,166.4h5.5M558.3,166.4h-5.5M73.4,181.0h5.5M558.3,181.0h-5.5M73.4,194.4h8M558.3,194.4h-8M73.4,209.7h5.5M558.3,209.7h-5.5M73.4,222.2h5.5M558.3,222.2h-5.5M73.4,237.0h5.5M558.3,237.0h-5.5M73.4,249.0h8M558.3,249.0h-8M73.4,265.5h5.5M558.3,265.5h-5.5M73.4,278.4h5.5M558.3,278.4h-5.5M73.4,292.7h5.5M558.3,292.7h-5.5" stroke="#333" stroke-width="1.2" fill="none"/>
<path d="M72.7,25.6H558.8" stroke="#000" stroke-width="1.1"/>
<path d="M72.7,305.3H558.8" stroke="#000" stroke-width="1.05"/>
<path d="M73.4,25.6V305.8" stroke="#505050" stroke-width="1.5"/>
<path d="M558.3,25.6V305.8" stroke="#111" stroke-width="1.0"/>
<line x1="400.5" y1="59.7" x2="434" y2="59.7" stroke="#c81010" stroke-width="2"/>
<line x1="400.5" y1="74.8" x2="434" y2="74.8" stroke="#20e020" stroke-width="2"/>
<line x1="400.5" y1="89.9" x2="434" y2="89.9" stroke="#0a0ad8" stroke-width="2"/>
<line x1="400.5" y1="105.2" x2="434" y2="105.2" stroke="#ffec00" stroke-width="2"/>
</svg>
<div class="yl" style="top:17.9px">1.0</div><div class="yl" style="top:76.0px">0.8</div><div class="yl" style="top:132.6px">0.6</div><div class="yl" style="top:186.0px">0.4</div><div class="yl" style="top:241.8px">0.2</div><div class="yl" style="top:297.1px">0.0</div><div class="xl" style="left:53.4px">0.0</div><div class="xl" style="left:134.4px">0.5</div><div class="xl" style="left:215.1px">1.0</div><div class="xl" style="left:295.5px">1.5</div><div class="xl" style="left:376.2px">2.0</div><div class="xl" style="left:456.6px">2.5</div><div class="xl" style="left:538.8px">3.0</div>
<div class="t" id="ylab" style="left:24.8px;top:170px;font-size:17px;color:#949494;transform:translate(-50%,-50%) rotate(-90deg);transform-origin:center;"><span style="letter-spacing:0.55px">Reflaction</span><span style="letter-spacing:1.15px"> (1.0 = 100%)</span></div>
<div class="t" id="xlab" style="left:208px;top:335px;font-size:17px;color:#454545;letter-spacing:0.72px;">Wavelength (micrometers)</div>
<div class="t" id="leg" style="left:396px;top:37px;font-size:12.5px;color:#555;letter-spacing:0.4px;">Snow grain size:</div>
<div class="t" style="left:449px;top:52.3px;font-size:13px;color:#4a4a4a;letter-spacing:0.35px;">r = 0.05 mm</div>
<div class="t" style="left:449px;top:67.3px;font-size:13px;color:#4a4a4a;letter-spacing:0.35px;">r = 0.2 mm</div>
<div class="t" style="left:449px;top:82.3px;font-size:13px;color:#4a4a4a;letter-spacing:0.35px;">r = 0.5 mm</div>
<div class="t" style="left:449px;top:97.3px;font-size:13px;color:#4a4a4a;letter-spacing:0.35px;">r = 1.0 mm</div>
<div class="t" style="left:422.4px;top:165px;font-size:12.5px;color:#555;">Dense</div>
<div class="t" style="left:475.5px;top:165px;font-size:12.5px;color:#555;">cloud</div>
</body></html>
